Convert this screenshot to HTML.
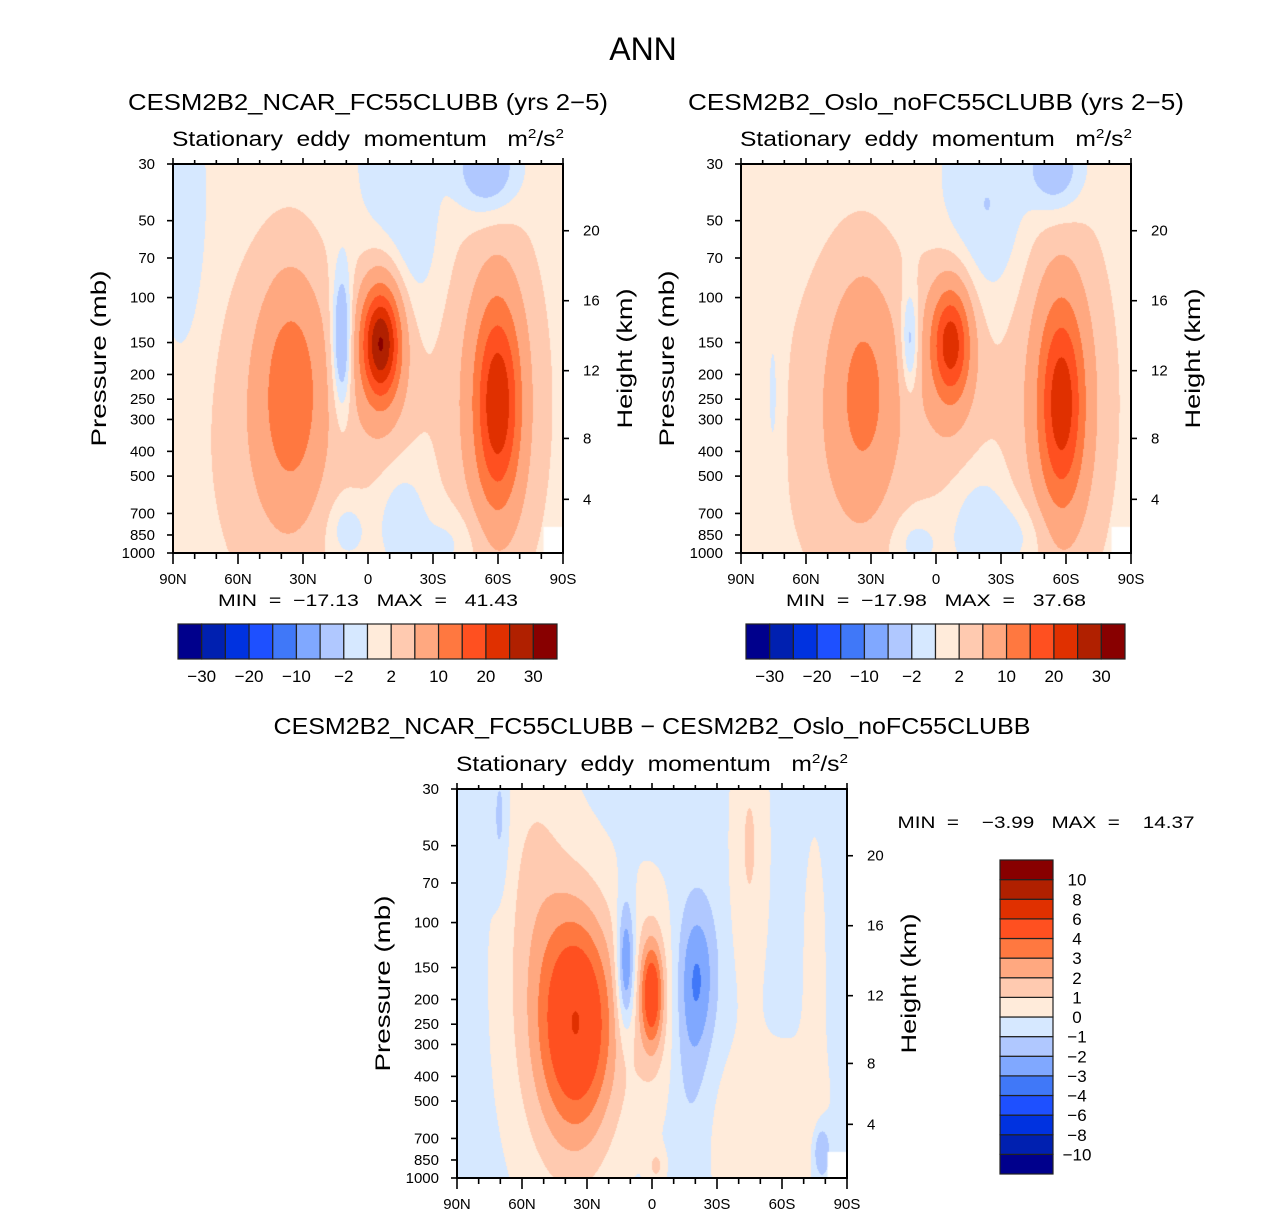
<!DOCTYPE html>
<html><head><meta charset="utf-8"><style>
html,body{margin:0;padding:0;background:#fff;}
#wrap{position:relative;width:1285px;height:1216px;overflow:hidden;}
canvas{position:absolute;}
svg{position:absolute;left:0;top:0;}
text{font-family:"Liberation Sans",sans-serif;fill:#000;}
</style></head><body>
<div id="wrap">
<canvas id="c1" style="left:173px;top:164px" width="390" height="389"></canvas>
<canvas id="c2" style="left:741px;top:164px" width="390" height="389"></canvas>
<canvas id="c3" style="left:457px;top:789px" width="390" height="389"></canvas>
<svg id="s" width="1285" height="1216"></svg>
</div>
<script>
// ---- data ----
const pTicks=[30,50,70,100,150,200,250,300,400,500,700,850,1000];
const zTicks=[4,8,12,16,20];
const latTicks=[90,60,30,0,-30,-60,-90];
const latLabels=["90N","60N","30N","0","30S","60S","90S"];
const colors=["#00008C","#0020B0","#0032E0","#1E50FF","#4078F8","#80A8FF","#B0C8FF","#D6E8FF","#FFEBDA","#FFCAB0","#FFA880","#FF7840","#FF5020","#E03000","#B02000","#880000"];
const levelsAbs=[-30,-25,-20,-15,-10,-5,-2,0,2,5,10,15,20,25,30];
const levelsDiff=[-10,-8,-6,-4,-3,-2,-1,0,1,2,3,4,6,8,10];
const absLabels=["-30","-20","-10","-2","2","10","20","30"];
const absLabelIdx=[0,2,4,6,8,10,12,14];
// blobs: lat, pressure, lat-sigma, logp-sigma, amplitude
const p1Base=0.8;
const p1Lat=[35,42,12,-6,-5,-60,-58,85,-10,-22,-55,-15,10,-40];
const p1P=[230,320,150,150,180,260,260,50,40,60,32,700,800,900];
const p1SL=[10,20,3.5,6,12,7,15,8,12,8,10,8,6,10];
const p1SP=[0.3,0.45,0.2,0.15,0.3,0.27,0.45,0.4,0.3,0.25,0.12,0.15,0.08,0.1];
const p1A=[10,4,-9,25,5,18,6,-2.2,-2.2,-1.8,-6,-2.6,-2.8,-2.2];
const p2Base=0.9;
const p2Lat=[33,40,12,-7,-5,-58,-57,-15,-30,-55,-20,10,-40,75];
const p2P=[230,320,150,150,180,260,260,50,45,32,750,900,850,250];
const p2SL=[10,20,3,6,12,7,15,12,10,9,10,8,10,3];
const p2SP=[0.3,0.45,0.15,0.15,0.3,0.27,0.45,0.3,0.25,0.12,0.15,0.08,0.1,0.3];
const p2A=[8,3.5,-6.5,18,5,17,6,-2.3,-1.8,-5.5,-2.6,-2.3,-2.3,-1.8];
const p3Base=-0.4;
const p3Lat=[34,38,55,12,0,0,-21,-18,-45,-45,-75,-68,-78,70,-2];
const p3P=[240,300,60,150,190,200,160,300,50,700,150,600,780,40,900];
const p3SL=[12,18,12,3,3.5,8,6,6,6,14,4,10,3,3,3];
const p3SP=[0.3,0.45,0.5,0.18,0.14,0.3,0.2,0.3,0.4,0.25,0.4,0.2,0.08,0.2,0.05];
const p3A=[4.2,2.2,1.2,-4.0,4.0,1.6,-2.2,-1.0,1.5,1.2,0.9,1.0,-2.2,-1.3,1.4];
// ---- scales ----
const PW=390,PH=389;
const lp0=Math.log10(30),lp1=Math.log10(1000);
function yP(p){return (Math.log10(p)-lp0)/(lp1-lp0)*PH;}
function xL(lat){return (90-lat)/180*PW;}
function zToP(z){const m=z*1000;if(m<=11000)return 1013.25*Math.pow(1-2.25577e-5*m,5.25588);return 226.32*Math.exp(-(m-11000)/6341.6);}
function lvl(v,lev){let i=0;while(i<lev.length&&v>=lev[i])i++;return i;}
function hex(c){return [parseInt(c.substr(1,2),16),parseInt(c.substr(3,2),16),parseInt(c.substr(5,2),16)];}
const rgb=colors.map(hex);
function drawField(id,base,L,P,SL,SP,A,lev){
 const cv=document.getElementById(id),ctx=cv.getContext('2d');
 const img=ctx.createImageData(PW,PH);
 const lpc=P.map(p=>Math.log10(p));
 for(let j=0;j<PH;j++){
  const lp=lp0+(j+0.5)/PH*(lp1-lp0);
  for(let i=0;i<PW;i++){
   const lat=90-(i+0.5)/PW*180;
   let v=base;
   for(let k=0;k<A.length;k++){
    const dx=(lat-L[k])/SL[k],dy=(lp-lpc[k])/SP[k];
    v+=A[k]*Math.exp(-0.5*(dx*dx+dy*dy));
   }
   const c=rgb[lvl(v,lev)],o=(j*PW+i)*4;
   img.data[o]=c[0];img.data[o+1]=c[1];img.data[o+2]=c[2];img.data[o+3]=255;
  }
 }
 ctx.putImageData(img,0,0);
 ctx.fillStyle="#fff";
 const x0=xL(-81),y0=yP(790);
 ctx.fillRect(x0,y0,PW-x0,PH-y0);
}
drawField('c1',p1Base,p1Lat,p1P,p1SL,p1SP,p1A,levelsAbs);
drawField('c2',p2Base,p2Lat,p2P,p2SL,p2SP,p2A,levelsAbs);
drawField('c3',p3Base,p3Lat,p3P,p3SL,p3SP,p3A,levelsDiff);
// ---- svg ----
const S=document.getElementById('s'),NS="http://www.w3.org/2000/svg";
function el(t,a,parent){const e=document.createElementNS(NS,t);for(const k in a)e.setAttribute(k,a[k]);(parent||S).appendChild(e);return e;}
function txt(x,y,s,size,anchor,name,extra){
 const e=el('text',Object.assign({x:x,y:y,'font-size':size,'text-anchor':anchor||'middle'},extra||{}));
 e.textContent=s;
 
 
 return e;}
function ln(x1,y1,x2,y2,name){const e=el('line',{x1:x1,y1:y1,x2:x2,y2:y2,stroke:'#000','stroke-width':1.6});
 
 
 return e;}
const t0=txt(643,60,"ANN",32,'middle','main-title');
function panel(ox,oy,title,titleX,titleY,titleW,subX,minmax,mmX,mmY,mmW,key){
 const r=el('rect',{x:ox,y:oy,width:PW,height:PH,fill:'none',stroke:'#000','stroke-width':2});
 
 
 txt(titleX,titleY,title,23,'middle',key+'-title',{textLength:titleW,lengthAdjust:'spacingAndGlyphs'});
 const st=txt(subX,oy-18,"",21,'middle',key+'-subtitle',{textLength:392,lengthAdjust:'spacingAndGlyphs'});
 st.innerHTML='Stationary\u00A0 eddy\u00A0 momentum\u00A0\u00A0 m<tspan dy="-8" font-size="13">2</tspan><tspan dy="8">/s</tspan><tspan dy="-8" font-size="13">2</tspan>';
 pTicks.forEach(p=>{const y=oy+yP(p);ln(ox-6,y,ox,y,key+'-y-tick');
  txt(ox-18,y+5,String(p),15,'end',key+'-y-tick-label');});
 zTicks.forEach(z=>{const y=oy+yP(zToP(z));ln(ox+PW,y,ox+PW+6,y,key+'-height-tick');
  txt(ox+PW+20,y+5,String(z),15,'start',key+'-height-tick-label');});
 for(let lat=90;lat>=-90;lat-=10){const x=ox+xL(lat),maj=(lat%30===0);
  ln(x,oy+PH,x,oy+PH+(maj?11:6),key+'-x-tick');ln(x,oy,x,oy-(maj?6:4),key+'-x-top-tick');}
 latTicks.forEach((lat,i)=>txt(ox+xL(lat),oy+PH+31,latLabels[i],15,'middle',key+'-x-tick-label'));
 txt(ox-78,oy+PH/2,"Pressure (mb)",21,'middle',key+'-y-axis-title',{transform:`rotate(-90 ${ox-74} ${oy+PH/2})`,x:ox-74,y:oy+PH/2+7,textLength:176,lengthAdjust:'spacingAndGlyphs'});
 txt(0,0,"Height (km)",21,'middle',key+'-height-axis-title',{transform:`rotate(-90 ${ox+PW+62} ${oy+PH/2})`,x:ox+PW+62,y:oy+PH/2+7,textLength:140,lengthAdjust:'spacingAndGlyphs'});
 txt(mmX,mmY,minmax,17,'middle',key+'-min-max',{textLength:mmW,lengthAdjust:'spacingAndGlyphs'});
}
panel(173,164,"CESM2B2_NCAR_FC55CLUBB (yrs 2\u22125)",368,110,480,368,"MIN\u00A0 =\u00A0 \u221217.13\u00A0\u00A0 MAX\u00A0 =\u00A0\u00A0 41.43",368,606,300,'ncar');
panel(741,164,"CESM2B2_Oslo_noFC55CLUBB (yrs 2\u22125)",936,110,496,936,"MIN\u00A0 =\u00A0 \u221217.98\u00A0\u00A0 MAX\u00A0 =\u00A0\u00A0 37.68",936,606,300,'oslo');
panel(457,789,"CESM2B2_NCAR_FC55CLUBB \u2212 CESM2B2_Oslo_noFC55CLUBB",652,734,757,652,"MIN\u00A0 =\u00A0\u00A0\u00A0 \u22123.99\u00A0\u00A0 MAX\u00A0 =\u00A0\u00A0\u00A0 14.37",1046,828,297,'diff');
function hbar(x0,y0,key){const w=379/16;
 colors.forEach((c,i)=>{const r=el('rect',{x:x0+i*w,y:y0,width:w,height:35,fill:c,stroke:'#222','stroke-width':1.2});
  
  });
 absLabelIdx.forEach((k,i)=>txt(x0+(k+1)*w,y0+58,absLabels[i].replace('-','\u2212'),17,'middle',key+'-colorbar-label'));}
hbar(178,624,'ncar');hbar(746,624,'oslo');
(function(){const x0=1000,y0=860,h=314/16;
 colors.forEach((c,i)=>{const r=el('rect',{x:x0,y:y0+(15-i)*h,width:53,height:h,fill:c,stroke:'#222','stroke-width':1.2});
  
  });
 levelsDiff.forEach((v,i)=>txt(1077,y0+(15-i)*h+6,String(v).replace('-','\u2212'),17,'middle','diff-colorbar-label'));})();
</script>
</body></html>
